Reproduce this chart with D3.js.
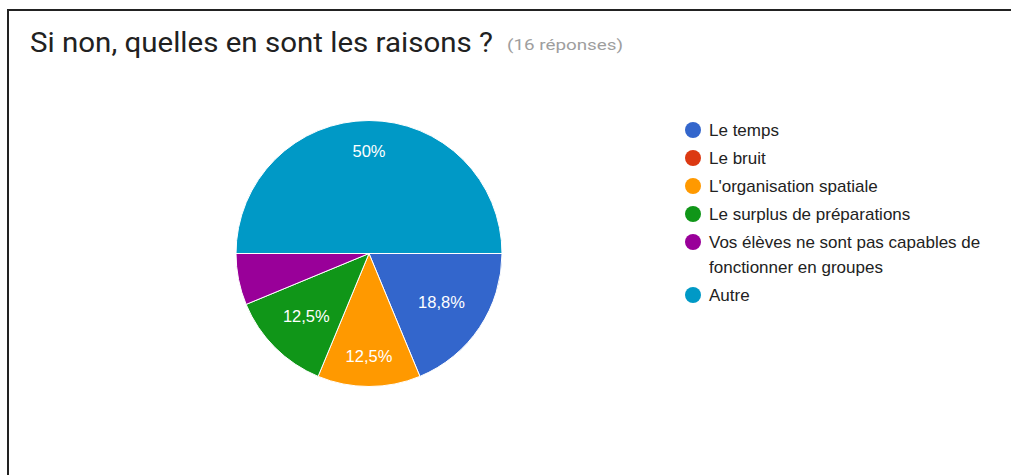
<!DOCTYPE html>
<html>
<head>
<meta charset="utf-8">
<script src="https://cdn.jsdelivr.net/npm/d3@7"></script>
<style>
  html, body { margin:0; padding:0; background:#fff; overflow:hidden; }
</style>
</head>
<body>
<script>
// data (16 responses)
var categories = ["Le temps", "Le bruit", "L'organisation spatiale", "Le surplus de préparations",
                  "Vos élèves ne sont pas capables de fonctionner en groupes", "Autre"];
var counts = [3, 0, 2, 2, 1, 8];
var pctLabels = ["18,8%", "", "12,5%", "12,5%", "", "50%"];
var colors = ["#3366cc", "#dc3912", "#ff9900", "#109618", "#990099", "#0099c6"];
// legend text split into lines like the picture
var legendLines = [["Le temps"], ["Le bruit"], ["L'organisation spatiale"], ["Le surplus de préparations"],
                   ["Vos élèves ne sont pas capables de", "fonctionner en groupes"], ["Autre"]];

var width = 1011, height = 475;

var svg = d3.select("body").append("svg")
    .attr("width", width)
    .attr("height", height);

// frame
svg.append("rect")
    .attr("x", 8).attr("y", 10)
    .attr("width", 1100).attr("height", 600)
    .attr("fill", "none")
    .attr("stroke", "#222")
    .attr("stroke-width", 2);

svg.append("text")
    .attr("x", 30).attr("y", 52)
    .attr("font-family", "Roboto, sans-serif")
    .attr("font-size", 27)
    .attr("fill", "#212121")
    .attr("textLength", 463)
    .attr("lengthAdjust", "spacingAndGlyphs")
    .text("Si non, quelles en sont les raisons ?");

svg.append("text")
    .attr("x", 507).attr("y", 50)
    .attr("font-family", "Roboto, sans-serif")
    .attr("font-size", 15)
    .attr("fill", "#9e9e9e")
    .attr("textLength", 116)
    .attr("lengthAdjust", "spacingAndGlyphs")
    .text("(16 réponses)");

/*
    Pie
*/
var cx = 369, cy = 253.5, radius = 133;

var pie = d3.pie()
    .sort(null)
    .value(function (d) { return d; })
    .startAngle(Math.PI / 2)
    .endAngle(Math.PI / 2 + 2 * Math.PI);

var arc = d3.arc().innerRadius(0).outerRadius(radius);

var g = svg.append("g").attr("transform", "translate(" + cx + "," + cy + ")");

var arcs = pie(counts);

g.selectAll("path.slice")
    .data(arcs.filter(function (d) { return d.value > 0; }))
    .enter()
    .append("path")
    .attr("class", "slice")
    .attr("d", arc)
    .attr("fill", function (d) { return colors[d.index]; })
    .attr("stroke", "#fff")
    .attr("stroke-width", 1);

// labels: outer edge of the text box sits at a fixed distance from the centre
var edge = radius * 0.84;
g.selectAll("text.pct")
    .data(arcs.filter(function (d) { return pctLabels[d.index] !== ""; }))
    .enter()
    .append("text")
    .attr("class", "pct")
    .attr("font-family", "Arial, 'Liberation Sans', sans-serif")
    .attr("font-size", 16.5)
    .attr("fill", "#fff")
    .attr("text-anchor", "middle")
    .text(function (d) { return pctLabels[d.index]; })
    .each(function (d) {
        var box = this.getBBox();
        var a = (d.startAngle + d.endAngle) / 2;
        var s = Math.sin(a), c = Math.cos(a);
        var r = edge - (box.width / 2 * Math.abs(s) + box.height / 2 * Math.abs(c));
        d3.select(this)
            .attr("x", r * s)
            .attr("y", -r * c)
            .attr("dy", "0.35em");
    });

/*
    Legend
*/
var legend = svg.append("g").attr("transform", "translate(693,130)");
var rowY = 0;
legendLines.forEach(function (lines, i) {
    var item = legend.append("g").attr("transform", "translate(0," + rowY + ")");
    item.append("circle")
        .attr("r", 8)
        .attr("fill", colors[i]);
    item.selectAll("text")
        .data(lines)
        .enter()
        .append("text")
        .attr("x", 16)
        .attr("y", function (d, j) { return j * 25; })
        .attr("dy", "0.35em")
        .attr("font-family", "Arial, 'Liberation Sans', sans-serif")
        .attr("font-size", 17)
        .attr("fill", "#222")
        .text(function (d) { return d; });
    rowY += 28 + (lines.length - 1) * 25;
});
</script>
</body>
</html>
